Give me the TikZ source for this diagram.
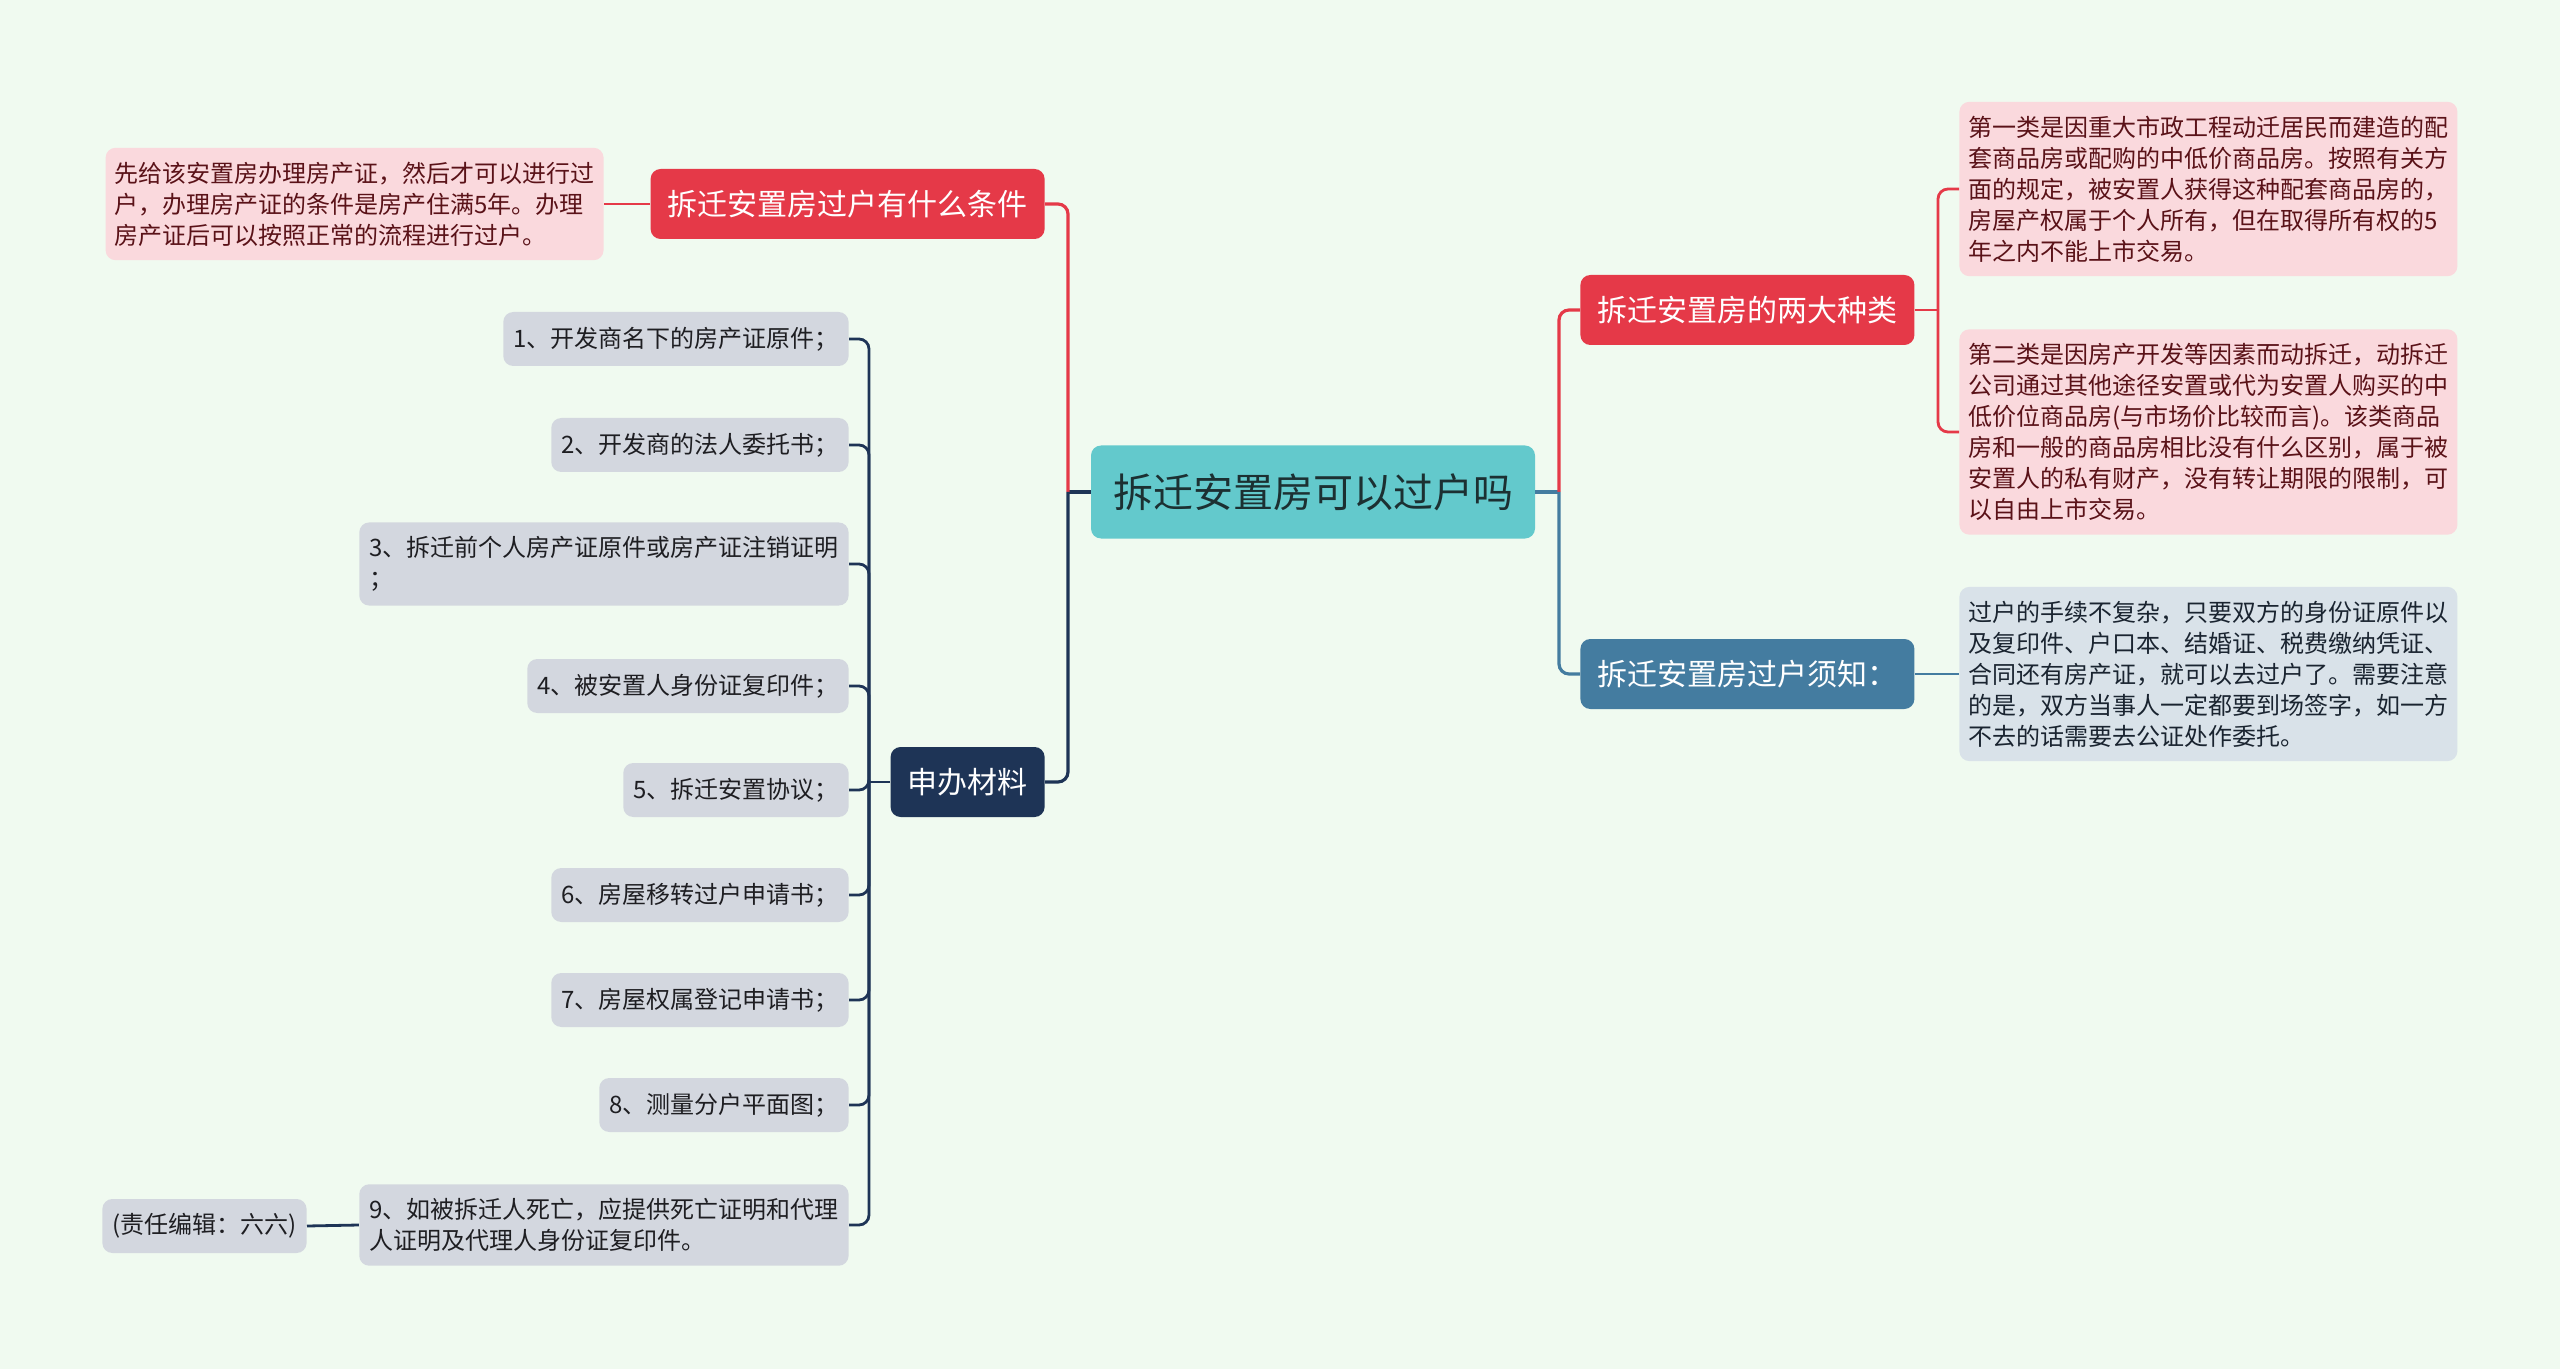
\documentclass[tikz,border=0pt]{standalone}
\usepackage{fontspec}
\setmainfont{Noto Sans CJK SC}
\usepackage{xcolor}
\usepackage{tikz}
\usetikzlibrary{positioning}
\definecolor{MintBg}{RGB}{240,250,240}
\definecolor{RootTeal}{RGB}{99,201,204}
\definecolor{RootText}{RGB}{28,48,50}
\definecolor{BranchRed}{RGB}{229,57,72}
\definecolor{NoteRose}{RGB}{250,217,221}
\definecolor{NoteMaroon}{RGB}{90,18,24}
\definecolor{DeepNavy}{RGB}{30,52,86}
\definecolor{ItemGray}{RGB}{211,215,223}
\definecolor{ItemText}{RGB}{30,30,34}
\definecolor{SteelBlue}{RGB}{68,124,160}
\definecolor{PaleSteel}{RGB}{217,226,233}
\definecolor{PaleText}{RGB}{26,36,48}
\tikzset{
    rootbox/.style={rectangle, fill=RootTeal, rounded corners=5pt, inner xsep=11pt, minimum height=46.5pt, text=RootText, font=\fontsize{20}{24}\selectfont},
    topicbox/.style={rectangle, rounded corners=5pt, inner xsep=8.5pt, minimum height=35pt, text=white, font=\fontsize{15}{18}\selectfont},
    notebox/.style={rectangle, rounded corners=5pt, inner xsep=4.5pt, inner ysep=7pt, align=left, font=\fontsize{12}{15.5}\selectfont},
    itembox/.style={notebox, fill=ItemGray, text=ItemText, minimum height=27pt, inner xsep=5pt},
    link/.style={line width=1.6pt, rounded corners=5pt},
}

\begin{document}
\begin{tikzpicture}[x=0.5pt,y=-0.5pt]
            \fill[MintBg] (0,0) rectangle (2560,1369);
            \useasboundingbox (0,0) rectangle (2560,1369);

            \node[rootbox] (root) at (1313,492) {拆迁安置房可以过户吗};

            \node[topicbox, fill=BranchRed, anchor=east] (cond) at (1045,204) {拆迁安置房过户有什么条件};
            \node[notebox, fill=NoteRose, text=NoteMaroon, anchor=east] (condnote) at (604,204) {先给该安置房办理房产证，然后才可以进行过\\户，办理房产证的条件是房产住满5年。办理\\房产证后可以按照正常的流程进行过户。};

            \node[topicbox, fill=DeepNavy, anchor=east] (docs) at (1045,782) {申办材料};
            \foreach \y/\t [count=\i] in {
                339/{1、开发商名下的房产证原件；},
                445/{2、开发商的法人委托书；},
                564/{3、拆迁前个人房产证原件或房产证注销证明\\；},
                686/{4、被安置人身份证复印件；},
                790/{5、拆迁安置协议；},
                895/{6、房屋移转过户申请书；},
                1000/{7、房屋权属登记申请书；},
                1105/{8、测量分户平面图；},
                1225/{9、如被拆迁人死亡，应提供死亡证明和代理\\人证明及代理人身份证复印件。}}
                \node[itembox, anchor=east] (d\i) at (849,\y) {\t};
            \node[itembox, anchor=east] (editor) at (307,1226) {(责任编辑：六六)};

            \node[topicbox, fill=BranchRed, anchor=west] (kinds) at (1580,310) {拆迁安置房的两大种类};
            \node[notebox, fill=NoteRose, text=NoteMaroon, anchor=west] (type1) at (1959,189) {第一类是因重大市政工程动迁居民而建造的配\\套商品房或配购的中低价商品房。按照有关方\\面的规定，被安置人获得这种配套商品房的，\\房屋产权属于个人所有，但在取得所有权的5\\年之内不能上市交易。};
            \node[notebox, fill=NoteRose, text=NoteMaroon, anchor=west] (type2) at (1959,432) {第二类是因房产开发等因素而动拆迁，动拆迁\\公司通过其他途径安置或代为安置人购买的中\\低价位商品房(与市场价比较而言)。该类商品\\房和一般的商品房相比没有什么区别，属于被\\安置人的私有财产，没有转让期限的限制，可\\以自由上市交易。};

            \node[topicbox, fill=SteelBlue, anchor=west] (notice) at (1580,674) {拆迁安置房过户须知：};
            \node[notebox, fill=PaleSteel, text=PaleText, anchor=west] (tip) at (1959,674) {过户的手续不复杂，只要双方的身份证原件以\\及复印件、户口本、结婚证、税费缴纳凭证、\\合同还有房产证，就可以去过户了。需要注意\\的是，双方当事人一定都要到场签字，如一方\\不去的话需要去公证处作委托。};

            \coordinate (jl) at (1068,492);
            \coordinate (jr) at (1559,492);
            \coordinate (jd) at (869,782);
            \coordinate (jk) at (1938,310);

            \draw[link, DeepNavy] (root.west) -- (jl);
            \draw[link, BranchRed] (jl) |- (cond.east);
            \draw[link, DeepNavy] (jl) |- (docs.east);
            \draw[link, BranchRed, line width=1.4pt] (cond.west) -- (condnote.east);
            \draw[link, DeepNavy, line width=1.4pt] (docs.west) -- (jd);
            \foreach \i in {1,...,9}
                \draw[link, DeepNavy, line width=1.4pt] (jd) |- (d\i.east);
            \draw[link, DeepNavy, line width=1.4pt] (d9.west) -- (editor.east);

            \draw[link, SteelBlue] (root.east) -- (jr);
            \draw[link, BranchRed] (jr) |- (kinds.west);
            \draw[link, SteelBlue] (jr) |- (notice.west);
            \draw[link, BranchRed, line width=1.4pt] (kinds.east) -- (jk);
            \draw[link, BranchRed, line width=1.4pt] (jk) |- (type1.west);
            \draw[link, BranchRed, line width=1.4pt] (jk) |- (type2.west);
            \draw[link, SteelBlue, line width=1.4pt] (notice.east) -- (tip.west);
        \end{tikzpicture}
\end{document}
